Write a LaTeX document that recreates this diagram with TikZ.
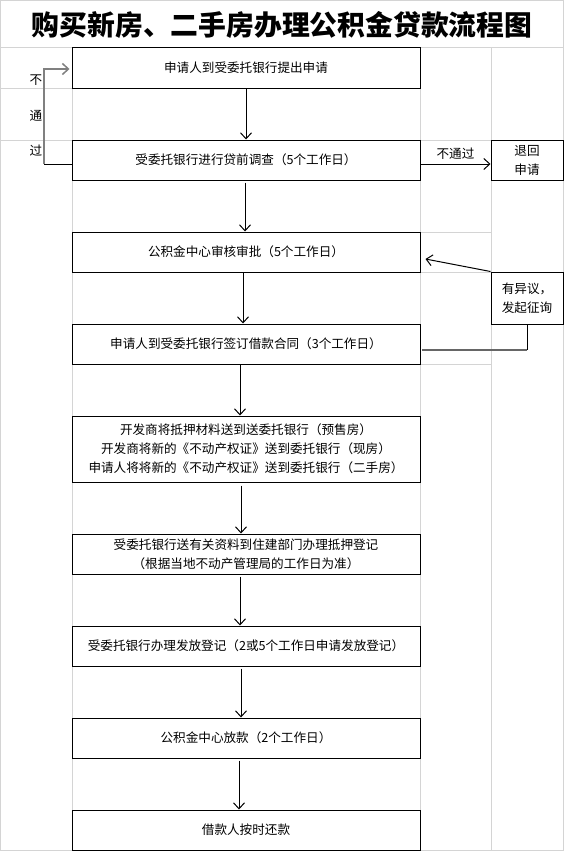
\documentclass[tikz,border=0pt]{standalone}
\usepackage{fontspec}
\newfontfamily\cjkf{Noto Sans CJK SC}
\newcommand\bfnt{\cjkf\fontsize{12.6}{19}\selectfont}
\usetikzlibrary{arrows.meta}
\definecolor{gridgrey}{HTML}{D4D4D4}
\definecolor{lgrey}{HTML}{808080}
\begin{document}
\begin{tikzpicture}[x=1pt,y=-1pt,
  grid/.style={draw=gridgrey,line width=1pt},
  box/.style={draw=black,line width=1pt,fill=white,inner sep=0pt,align=center,font=\bfnt},
  mainbox/.style={box,minimum width=348pt,minimum height=40pt},
  sidebox/.style={box,minimum width=72pt,minimum height=40pt},
  arr/.style={draw=black,line width=1pt,-{Straight Barb[length=6pt,width=11pt]}},
  lbl/.style={font=\bfnt,inner sep=0pt}]
\useasboundingbox (0,0) rectangle (564,851);
% sheet grid
\draw[grid] (0.5,0.5) rectangle (563.5,850.5);
\draw[grid] (0,48) -- (564,48);
\draw[grid] (72,48) -- (72,851);
\draw[grid] (420,48) -- (420,851);
\draw[grid] (491,48) -- (491,851);
\draw[grid] (0,88) -- (72,88);
\draw[grid] (0,140) -- (72,140);
\draw[grid] (420,140) -- (491,140);
\draw[grid] (420,232) -- (491,232);
\draw[grid] (420,272) -- (491,272);
\draw[grid] (420,364) -- (491,364);
% title
\node[font=\cjkf\bfseries\fontsize{27.8}{32}\selectfont,inner sep=0pt] (title) at (282,25) {购买新房、二手房办理公积金贷款流程图};
% boxes
\node[mainbox] (b1) at (246,68) {申请人到受委托银行提出申请};
\node[mainbox] (b2) at (246,160) {受委托银行进行贷前调查（5个工作日）};
\node[mainbox] (b3) at (246,252) {公积金中心审核审批（5个工作日）};
\node[mainbox] (b4) at (246,344) {申请人到受委托银行签订借款合同（3个工作日）};
\node[mainbox,minimum height=66pt] (b5) at (246,449) {开发商将抵押材料送到送委托银行（预售房）\\开发商将新的《不动产权证》送到委托银行（现房）\\申请人将将新的《不动产权证》送到委托银行（二手房）};
\node[mainbox] (b6) at (246,554) {受委托银行送有关资料到住建部门办理抵押登记\\（根据当地不动产管理局的工作日为准）};
\node[mainbox] (b7) at (246,646) {受委托银行办理发放登记（2或5个工作日申请发放登记）};
\node[mainbox] (b8) at (246,738) {公积金中心放款（2个工作日）};
\node[mainbox] (b9) at (246,830) {借款人按时还款};
\node[sidebox] (r1) at (527,160) {退回\\申请};
\node[sidebox,minimum height=52pt] (r2) at (527,298) {有异议，\\发起征询};
% main flow
\draw[arr] (b1.south) -- (b2.north);
\draw[arr,shorten <=2pt] ([xshift=-1pt]b2.south) -- ([xshift=-1pt]b3.north);
\draw[arr] ([xshift=-3pt]b3.south) -- ([xshift=-3pt]b4.north);
\draw[arr] ([xshift=-6pt]b4.south) -- ([xshift=-6pt]b5.north);
\draw[arr,shorten <=3pt] ([xshift=-5pt]b5.south) -- ([xshift=-5pt]b6.north);
\draw[arr,shorten <=2pt] ([xshift=-6pt]b6.south) -- ([xshift=-6pt]b7.north);
\draw[arr,shorten <=2pt] ([xshift=-5pt]b7.south) -- ([xshift=-5pt]b8.north);
\draw[arr,shorten <=2pt] ([xshift=-7pt]b8.south) -- ([xshift=-7pt]b9.north);
% reject
\draw[arr] ([yshift=-4pt]b2.east) -- node[lbl,above=4pt] (nt) {不通过} ([yshift=-4pt]r1.west);
% loop back
\coordinate (lb) at (44,164);
\draw[black,line width=1pt] ([yshift=-4pt]b2.west) -- (lb);
\draw[draw=lgrey,line width=1.5pt,-{Straight Barb[length=6pt,width=11pt]},shorten >=2pt] (lb) |- ([yshift=-1pt]b1.west);
\node[lbl] (t1) at (36,80) {不};
\node[lbl] (t2) at (36,116) {通};
\node[lbl] (t3) at (36,151) {过};
% objection
\draw[arr] (r2.north west) -- ([xshift=5pt,yshift=-7pt]b3.east);
\coordinate (rc) at (527,350);
\draw[black,line width=1pt] (r2.south) -- (rc);
\draw[draw=lgrey!80!black,line width=2pt] (rc) -- ([xshift=1pt,yshift=-6pt]b4.east);
\end{tikzpicture}
\end{document}
